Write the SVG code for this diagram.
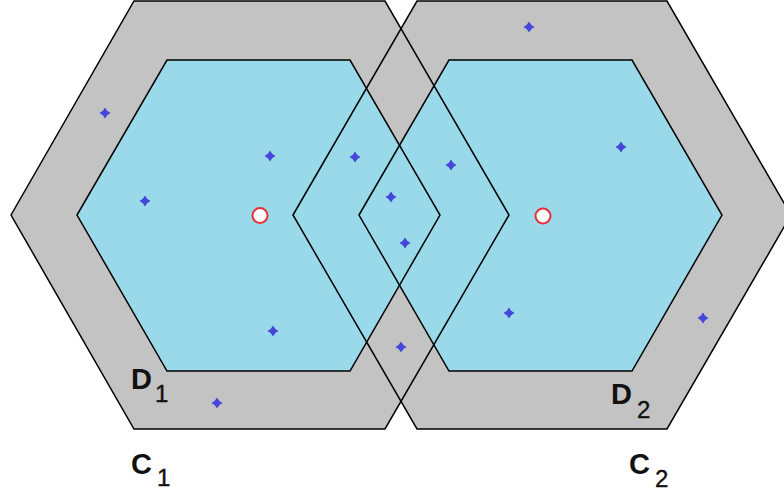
<svg xmlns="http://www.w3.org/2000/svg" xmlns:xlink="http://www.w3.org/1999/xlink" width="784" height="493" viewBox="0 0 784 493">
<style>
.outer{fill:#c3c3c3;stroke:none}
.inner{fill:#99d9ea;stroke:none}
.edge{fill:none;stroke:#000;stroke-width:1.5;stroke-linejoin:miter}
.pt{fill:#4646d8}
.ctr{fill:#fff;stroke:#e8303a;stroke-width:2}
.lbl{font-family:"Liberation Sans",Arial,sans-serif;font-weight:bold;font-size:29px;fill:#111}
.sub{font-family:"Liberation Sans",Arial,sans-serif;font-size:24px;fill:#111;stroke:#111;stroke-width:0.4}
</style>
<defs>
<path id="dot" d="M0,-5.5 L2.2,-2.2 L5.5,0 L2.2,2.2 L0,5.5 L-2.2,2.2 L-5.5,0 L-2.2,-2.2Z"/>
</defs>
<rect width="784" height="493" fill="#fff"/>
<g id="fills">
<polygon class="outer" points="11,215 134,1 385,1 509,215 385,429 134,429"/>
<polygon class="outer" points="293,215 417,1 667,1 791,215 667,429 417,429"/>
<polygon class="inner" points="77,215 167,60 350,60 440,215 350,371 167,371"/>
<polygon class="inner" points="359,215 449,60 632,60 722,215 632,371 449,371"/>
</g>
<g id="C1"><polygon class="edge" points="11,215 134,1 385,1 509,215 385,429 134,429"/>
<text class="lbl" x="131" y="474">C</text><text class="sub" x="157" y="486">1</text></g>
<g id="C2"><polygon class="edge" points="293,215 417,1 667,1 791,215 667,429 417,429"/>
<text class="lbl" x="629" y="474">C</text><text class="sub" x="655" y="487">2</text></g>
<g id="D1"><polygon class="edge" points="77,215 167,60 350,60 440,215 350,371 167,371"/>
<text class="lbl" x="131" y="389">D</text><text class="sub" x="155" y="402">1</text></g>
<g id="D2"><polygon class="edge" points="359,215 449,60 632,60 722,215 632,371 449,371"/>
<text class="lbl" x="611" y="404">D</text><text class="sub" x="637" y="418">2</text></g>
<g id="centers">
<circle class="ctr" cx="260" cy="215.5" r="7.5"/>
<circle class="ctr" cx="543" cy="216" r="7.5"/>
</g>
<g id="points" class="pt">
<use xlink:href="#dot" x="105" y="113"/>
<use xlink:href="#dot" x="270" y="156"/>
<use xlink:href="#dot" x="145" y="201"/>
<use xlink:href="#dot" x="355" y="157"/>
<use xlink:href="#dot" x="391" y="197"/>
<use xlink:href="#dot" x="529" y="27"/>
<use xlink:href="#dot" x="621" y="147"/>
<use xlink:href="#dot" x="451" y="165"/>
<use xlink:href="#dot" x="405" y="243"/>
<use xlink:href="#dot" x="273" y="331"/>
<use xlink:href="#dot" x="217" y="403"/>
<use xlink:href="#dot" x="401" y="347"/>
<use xlink:href="#dot" x="509" y="313"/>
<use xlink:href="#dot" x="703" y="318"/>
</g>
</svg>
